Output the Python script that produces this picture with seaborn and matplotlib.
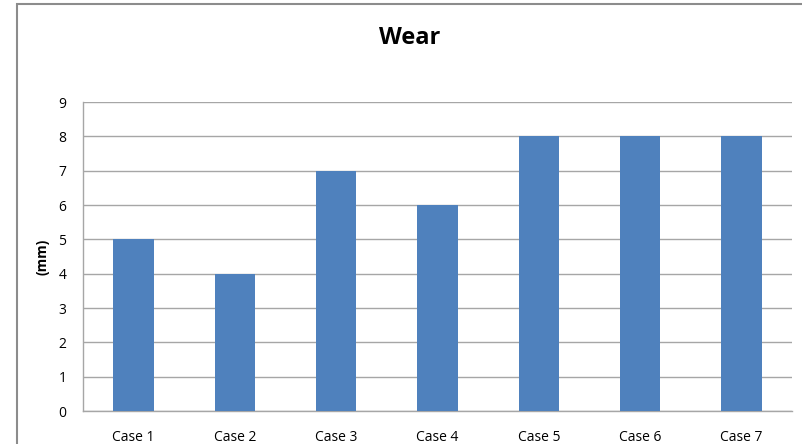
import matplotlib
matplotlib.use("Agg")
import matplotlib.pyplot as plt
import seaborn as sns
import pandas as pd
from matplotlib.patches import Rectangle

cases = ["Case 1", "Case 2", "Case 3", "Case 4", "Case 5", "Case 6", "Case 7"]
wear_mm = [5, 4, 7, 6, 8, 8, 8]
y_ticks = [0, 1, 2, 3, 4, 5, 6, 7, 8, 9]

df = pd.DataFrame({"case": cases, "wear": wear_mm})

sns.set_theme(style="white")
plt.rcParams["font.family"] = ["Open Sans", "DejaVu Sans"]
plt.rcParams["text.color"] = "black"

fig = plt.figure(figsize=(8.03, 4.44), dpi=100)
ax = fig.add_axes([83 / 803, 1 - 411 / 444, (792 - 83) / 803, (411 - 102) / 444])

sns.barplot(data=df, x="case", y="wear", color="#4f81bd", width=0.4,
            saturation=1, linewidth=0, ax=ax, zorder=3)

ax.set_ylim(0, 9)
ax.set_xlim(-0.5, len(cases) - 0.5)
ax.set_yticks(y_ticks)
ax.yaxis.grid(True, color="#a6a6a6", linewidth=1.0, zorder=0)
ax.set_axisbelow(True)
for side in ["top", "right"]:
    ax.spines[side].set_visible(False)
for side in ["left", "bottom"]:
    ax.spines[side].set_color("#a6a6a6")
    ax.spines[side].set_linewidth(1.0)

ax.tick_params(axis="both", length=0, labelsize=10, colors="black")
ax.tick_params(axis="x", pad=14)
ax.tick_params(axis="y", pad=12)
ax.set_xlabel("")
ax.set_ylabel("(mm)", fontsize=10, fontweight="bold", labelpad=6, color="black")

fig.text(410 / 803, 1 - 38 / 444, "Wear", ha="center", va="center",
         fontsize=17, fontweight="bold", color="black")

# chart-area frame
fig.patches.append(Rectangle((17 / 803, -0.1), 1.2, 1 - 4.5 / 444 + 0.1,
                             transform=fig.transFigure, fill=False,
                             edgecolor="#8c8c8c", linewidth=1.5))

fig.savefig("out.png", dpi=100)
